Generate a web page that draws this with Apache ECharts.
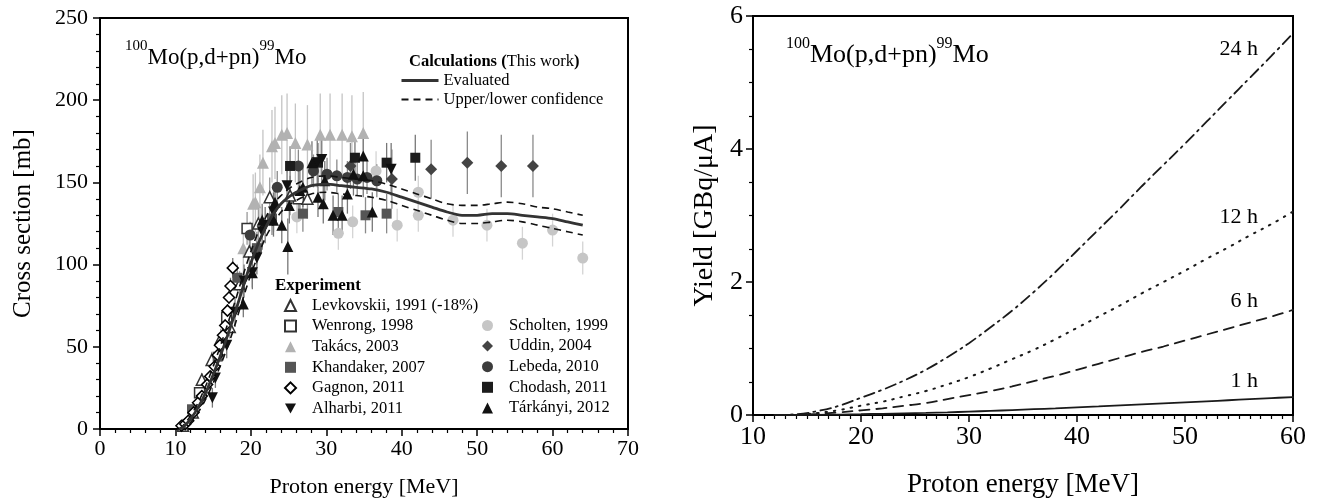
<!DOCTYPE html>
<html>
<head>
<meta charset="utf-8">
<script src="https://cdn.jsdelivr.net/npm/echarts@6/dist/echarts.min.js"></script>
<style>
html, body { margin: 0; padding: 0; background: #fff; }
#main { width: 1320px; height: 503px; }
</style>
</head>
<body>
<div id="main"></div>
<script>
// ---- left panel: cross section data, [E (MeV), sigma (mb), error (mb)] ----
var levkovskii = [[11.0, 2, 2], [12.3, 10, 3], [13.5, 30, 4], [14.8, 42, 5], [16.0, 55, 6], [17.2, 62, 7],
    [18.5, 88, 8], [19.8, 108, 9], [21.0, 125, 10], [22.5, 141, 12], [25.2, 142, 12], [27.5, 140, 12]];
var wenrong = [[13.2, 22, 3], [16.8, 68, 6], [19.5, 122, 10], [26.3, 140, 10]];
var takacs = [[19.0, 110, 15], [20.3, 137, 18], [20.6, 138, 18], [21.2, 147, 20], [21.6, 162, 20], [22.8, 172, 22],
    [23.2, 174, 22], [24.1, 179, 24], [24.8, 180, 24], [25.9, 174, 24], [27.5, 173, 24], [29.2, 179, 25],
    [30.5, 179, 25], [32.1, 179, 25], [33.4, 178, 25], [34.9, 180, 25]];
var khandaker = [[12.2, 12, 3], [15.6, 44, 5], [18.2, 92, 8], [20.8, 110, 10], [22.8, 128, 10], [26.9, 131, 11],
    [31.6, 132, 11], [35.2, 130, 11], [38.0, 131, 12]];
var gagnon = [[10.8, 2, 2], [11.3, 3, 2], [11.7, 5, 2], [12.4, 10, 2], [13.0, 16, 2], [13.5, 20, 2], [14.2, 27, 3],
    [14.6, 32, 3], [15.2, 38, 3], [15.6, 45, 3], [15.9, 51, 3], [16.3, 57, 4], [16.6, 63, 4], [16.9, 72, 4],
    [17.1, 80, 4], [17.3, 87, 5], [17.6, 98, 6]];
var alharbi = [[14.9, 19, 6], [15.3, 31, 6], [16.8, 51, 8], [17.9, 71, 9], [19.1, 90, 10], [20.2, 95, 10],
    [20.8, 104, 10], [21.5, 120, 11], [21.9, 124, 11], [23.0, 132, 12], [24.8, 148, 14], [28.8, 162, 15],
    [29.4, 164, 15], [38.6, 158, 16]];
var scholten = [[26.1, 129, 10], [31.6, 119, 10], [33.5, 126, 10], [36.6, 157, 12], [39.4, 124, 10], [42.2, 144, 10],
    [42.2, 130, 10], [46.8, 127, 10], [51.3, 124, 10], [56.0, 113, 10], [60.0, 121, 10], [64.0, 104, 10]];
var uddin = [[33.2, 160, 14], [38.7, 152, 18], [43.9, 158, 18], [48.7, 162, 19], [53.2, 160, 19], [57.4, 160, 19]];
var lebeda = [[19.9, 118, 8], [23.5, 147, 10], [26.3, 160, 10], [28.3, 157, 10], [30.1, 155, 10], [31.4, 154, 10],
    [32.8, 153, 10], [34.1, 152, 10], [35.4, 153, 10], [36.7, 151, 10]];
var chodash = [[25.2, 160, 12], [28.9, 162, 12], [33.8, 165, 12], [38.0, 162, 12], [41.8, 165, 14]];
var tarkanyi = [[19.0, 76, 8], [20.2, 95, 9], [21.5, 127, 10], [23.0, 127, 10], [23.2, 138, 11], [24.1, 124, 11],
    [24.9, 111, 17], [25.1, 136, 11], [26.5, 145, 12], [26.9, 147, 12], [28.1, 162, 13], [28.9, 141, 12],
    [29.6, 137, 12], [29.8, 151, 12], [30.9, 130, 12], [32.1, 130, 12], [32.8, 143, 12], [33.6, 155, 13],
    [34.9, 166, 13], [34.9, 154, 13], [36.1, 132, 12]];

// evaluated curve and confidence band
var evalE = [10.5, 11, 12, 13, 14, 15, 16, 17, 18, 19, 20, 21, 22, 23, 24, 25, 26, 28, 30, 32, 34, 36, 38, 40,
    42, 44, 46, 48, 50, 52, 54, 56, 58, 60, 62, 64];
var evalCs = [0, 1, 6, 13, 22, 33, 45, 58, 72, 87, 101, 113, 123, 131, 137, 141, 144, 148, 149, 148, 147, 146, 144, 141,
    138, 135, 132, 130, 130, 131, 131, 130, 129, 128, 126, 124];
var upperCs = [0, 2, 8, 16, 26, 38, 51, 65, 79, 94, 108, 120, 129, 137, 142, 146, 149, 153, 154, 153, 152, 151, 149, 146,
    143, 140, 137, 136, 136, 137, 138, 137, 135, 134, 132, 130];
var lowerCs = [0, 0, 4, 10, 18, 28, 39, 51, 65, 80, 94, 106, 117, 125, 132, 136, 139, 143, 144, 143, 142, 141, 139, 136,
    133, 130, 127, 125, 125, 126, 127, 126, 124, 122, 120, 118];

// ---- right panel: yield (GBq/uA) vs proton energy ----
var yieldE = [12, 14, 16, 18, 20, 22, 24, 26, 28, 30, 32, 34, 36, 38, 40, 42, 44, 46, 48, 50, 52, 54, 56, 58, 60];
var yield24h = [0, 0.01, 0.06, 0.14, 0.26, 0.38, 0.52, 0.68, 0.87, 1.08, 1.32, 1.57, 1.85, 2.15, 2.47, 2.79, 3.11,
    3.44, 3.76, 4.08, 4.41, 4.74, 5.07, 5.4, 5.74];
var yield12h = [0, 0.005, 0.03, 0.075, 0.14, 0.2, 0.28, 0.36, 0.46, 0.57, 0.7, 0.84, 0.98, 1.14, 1.31, 1.48, 1.65,
    1.83, 2.0, 2.17, 2.35, 2.52, 2.7, 2.87, 3.06];
var yield6h = [0, 0.003, 0.016, 0.04, 0.07, 0.1, 0.14, 0.18, 0.24, 0.3, 0.36, 0.43, 0.51, 0.59, 0.68, 0.77, 0.86,
    0.95, 1.03, 1.12, 1.21, 1.3, 1.39, 1.48, 1.58];
var yield1h = [0, 0, 0.003, 0.007, 0.012, 0.018, 0.024, 0.031, 0.04, 0.051, 0.062, 0.074, 0.087, 0.1, 0.116, 0.131,
    0.146, 0.161, 0.176, 0.191, 0.206, 0.222, 0.238, 0.254, 0.27];

var FONT = 'Liberation Serif, Times New Roman, serif';
var downTri = 'path://M0,0L10,0L5,9Z';

var sets = [
    {name: 'Scholten, 1999', data: scholten, symbol: 'circle', fill: '#c6c6c6', size: 11, bar: '#d4d4d4'},
    {name: 'Takács, 2003', data: takacs, symbol: 'triangle', fill: '#b2b2b2', size: 12, bar: '#c4c4c4'},
    {name: 'Wenrong, 1998', data: wenrong, symbol: 'rect', fill: '#fff', border: '#333', size: 10, bar: '#999'},
    {name: 'Levkovskii, 1991 (-18%)', data: levkovskii, symbol: 'triangle', fill: '#fff', border: '#333', size: 11, bar: '#999'},
    {name: 'Uddin, 2004', data: uddin, symbol: 'diamond', fill: '#444', size: 12, bar: '#8a8a8a'},
    {name: 'Khandaker, 2007', data: khandaker, symbol: 'rect', fill: '#555', size: 10, bar: '#8a8a8a'},
    {name: 'Lebeda, 2010', data: lebeda, symbol: 'circle', fill: '#3c3c3c', size: 11, bar: '#8a8a8a'},
    {name: 'Chodash, 2011', data: chodash, symbol: 'rect', fill: '#1c1c1c', size: 10, bar: '#777'},
    {name: 'Alharbi, 2011', data: alharbi, symbol: downTri, fill: '#111', size: 11, bar: '#777'},
    {name: 'Tárkányi, 2012', data: tarkanyi, symbol: 'triangle', fill: '#111', size: 11, bar: '#777'},
    {name: 'Gagnon, 2011', data: gagnon, symbol: 'diamond', fill: '#fff', border: '#000', size: 11, bar: '#777'}
];

function pairs(xs, ys) {
    return xs.map(function (x, i) { return [x, ys[i]]; });
}

function errBars(data, color) {
    return {
        type: 'custom', xAxisIndex: 0, yAxisIndex: 0, z: 1, silent: true,
        data: data.map(function (d) { return [d[0], d[1] - d[2], d[1] + d[2]]; }),
        encode: {x: 0, y: [1, 2]},
        renderItem: function (params, api) {
            var a = api.coord([api.value(0), api.value(1)]);
            var b = api.coord([api.value(0), api.value(2)]);
            return {
                type: 'line',
                shape: {x1: a[0], y1: a[1], x2: b[0], y2: b[1]},
                style: {stroke: color, lineWidth: 1.3}
            };
        }
    };
}

function points(s) {
    return {
        name: s.name, type: 'scatter', xAxisIndex: 0, yAxisIndex: 0, z: 2,
        symbol: s.symbol, symbolSize: s.size,
        itemStyle: {color: s.fill, borderColor: s.border || s.fill, borderWidth: s.border ? 1.5 : 0, opacity: 1},
        data: s.data.map(function (d) { return [d[0], d[1]]; })
    };
}

function yLine(name, ys, type, width) {
    return {
        name: name, type: 'line', xAxisIndex: 1, yAxisIndex: 1, showSymbol: false, symbol: 'none',
        smooth: 0.4, lineStyle: {color: '#1a1a1a', width: width, type: type, cap: 'round'},
        data: pairs(yieldE, ys)
    };
}

var series = [];
sets.forEach(function (s) { series.push(errBars(s.data, s.bar)); });
sets.forEach(function (s) { series.push(points(s)); });

series.push({
    name: 'Upper/lower confidence', type: 'line', xAxisIndex: 0, yAxisIndex: 0, z: 4, showSymbol: false, symbol: 'none',
    smooth: 0.3, lineStyle: {color: '#111', width: 1.6, type: [7, 5]}, data: pairs(evalE, upperCs)
});
series.push({
    name: 'Upper/lower confidence', type: 'line', xAxisIndex: 0, yAxisIndex: 0, z: 4, showSymbol: false, symbol: 'none',
    smooth: 0.3, lineStyle: {color: '#111', width: 1.6, type: [7, 5]}, data: pairs(evalE, lowerCs)
});
series.push({
    name: 'Evaluated', type: 'line', xAxisIndex: 0, yAxisIndex: 0, z: 5, showSymbol: false, symbol: 'none',
    smooth: 0.3, lineStyle: {color: '#333', width: 2.8}, data: pairs(evalE, evalCs)
});

series.push(yLine('24 h', yield24h, [11, 5, 2, 5], 1.8));
series.push(yLine('12 h', yield12h, [1.5, 7], 2));
series.push(yLine('6 h', yield6h, [10, 7], 1.8));
series.push(yLine('1 h', yield1h, 'solid', 1.8));

function axisBase(extra) {
    var base = {
        type: 'value',
        axisLine: {show: true, onZero: false, lineStyle: {color: '#000', width: 2}},
        axisTick: {show: true, length: 7, lineStyle: {color: '#000', width: 1.5}},
        minorTick: {show: true, length: 4, lineStyle: {color: '#000', width: 1.2}},
        splitLine: {show: false},
        minorSplitLine: {show: false},
        axisLabel: {color: '#000', fontFamily: FONT},
        nameLocation: 'middle',
        nameTextStyle: {color: '#000', fontFamily: FONT}
    };
    for (var k in extra) {
        if (typeof extra[k] === 'object' && base[k] && !Array.isArray(extra[k])) {
            base[k] = Object.assign({}, base[k], extra[k]);
        } else {
            base[k] = extra[k];
        }
    }
    return base;
}

var legendText = {color: '#000', fontFamily: FONT, fontSize: 16.5, lineHeight: 17};
// symbols kept square; the gap to the text comes from the text padding
var legendSymText = Object.assign({}, legendText, {padding: [0, 0, 0, 11]});

var option = {
    animation: false,
    backgroundColor: '#fff',
    grid: [
        {left: 100, right: 692, top: 18, bottom: 71, show: true, borderColor: '#000', borderWidth: 2},
        {left: 753, right: 27, top: 16, bottom: 87, show: true, borderColor: '#000', borderWidth: 2}
    ],
    xAxis: [
        axisBase({gridIndex: 0, min: 0, max: 70, interval: 10, minorTick: {splitNumber: 5},
            axisLabel: {fontSize: 22, margin: 9}, name: 'Proton energy [MeV]', nameGap: 47,
            nameTextStyle: {fontSize: 22}}),
        axisBase({gridIndex: 1, min: 10, max: 60, interval: 10, minorTick: {splitNumber: 10},
            axisLabel: {fontSize: 26, margin: 9}, name: 'Proton energy [MeV]', nameGap: 56,
            nameTextStyle: {fontSize: 27}})
    ],
    yAxis: [
        axisBase({gridIndex: 0, min: 0, max: 250, interval: 50, minorTick: {splitNumber: 5},
            axisLabel: {fontSize: 22, margin: 12}, name: 'Cross section [mb]', nameGap: 64,
            nameTextStyle: {fontSize: 25}}),
        axisBase({gridIndex: 1, min: 0, max: 6, interval: 2, minorTick: {splitNumber: 4},
            axisLabel: {fontSize: 26, margin: 10}, name: 'Yield [GBq/μA]', nameGap: 34,
            nameTextStyle: {fontSize: 28}})
    ],
    legend: [
        {data: [{name: 'Evaluated', lineStyle: {width: 3}}, {name: 'Upper/lower confidence', lineStyle: {width: 1.8}}],
            orient: 'vertical', left: 400, top: 72,
            itemWidth: 37, itemHeight: 12, itemGap: 2, padding: 0, textStyle: legendText, selectedMode: false,
            itemStyle: {opacity: 0}},
        {data: ['Levkovskii, 1991 (-18%)', 'Wenrong, 1998', 'Takács, 2003', 'Khandaker, 2007', 'Gagnon, 2011', 'Alharbi, 2011'],
            orient: 'vertical', left: 284, top: 297, itemWidth: 11, itemHeight: 11, itemGap: 3.6, padding: 0,
            textStyle: legendSymText, selectedMode: false},
        {data: ['Scholten, 1999', 'Uddin, 2004', 'Lebeda, 2010', 'Chodash, 2011', 'Tárkányi, 2012'],
            orient: 'vertical', left: 482, top: 317, itemWidth: 11, itemHeight: 11, itemGap: 3.6, padding: 0,
            textStyle: legendSymText, selectedMode: false}
    ],
    graphic: [
        {type: 'text', left: 125, top: 39, style: {
            text: '{s|100}{n|Mo(p,d+pn)}{s|99}{n|Mo}',
            rich: {
                s: {fontSize: 15, fontFamily: FONT, verticalAlign: 'top', lineHeight: 30, padding: [0, 0, 13, 0]},
                n: {fontSize: 23, fontFamily: FONT, verticalAlign: 'bottom', lineHeight: 30}
            }, fill: '#000'}},
        {type: 'text', left: 409, top: 53, style: {
            text: '{b|Calculations (}{n|This work}{b|)}',
            rich: {
                b: {fontSize: 16.5, fontWeight: 'bold', fontFamily: FONT},
                n: {fontSize: 16.5, fontFamily: FONT}
            }, fill: '#000'}},
        {type: 'text', left: 275, top: 277, style: {
            text: 'Experiment', fontSize: 17, fontWeight: 'bold', fontFamily: FONT, fill: '#000'}},
        {type: 'text', left: 786, top: 36, style: {
            text: '{s|100}{n|Mo(p,d+pn)}{s|99}{n|Mo}',
            rich: {
                s: {fontSize: 16, fontFamily: FONT, verticalAlign: 'top', lineHeight: 32, padding: [0, 0, 14, 0]},
                n: {fontSize: 26, fontFamily: FONT, verticalAlign: 'bottom', lineHeight: 32}
            }, fill: '#000'}},
        {type: 'text', right: 62, top: 38, style: {text: '24 h', fontSize: 22, fontFamily: FONT, fill: '#000'}},
        {type: 'text', right: 62, top: 206, style: {text: '12 h', fontSize: 22, fontFamily: FONT, fill: '#000'}},
        {type: 'text', right: 62, top: 290, style: {text: '6 h', fontSize: 22, fontFamily: FONT, fill: '#000'}},
        {type: 'text', right: 62, top: 370, style: {text: '1 h', fontSize: 22, fontFamily: FONT, fill: '#000'}}
    ],
    series: series
};

var chart = echarts.init(document.getElementById('main'));
chart.setOption(option);
</script>
</body>
</html>
